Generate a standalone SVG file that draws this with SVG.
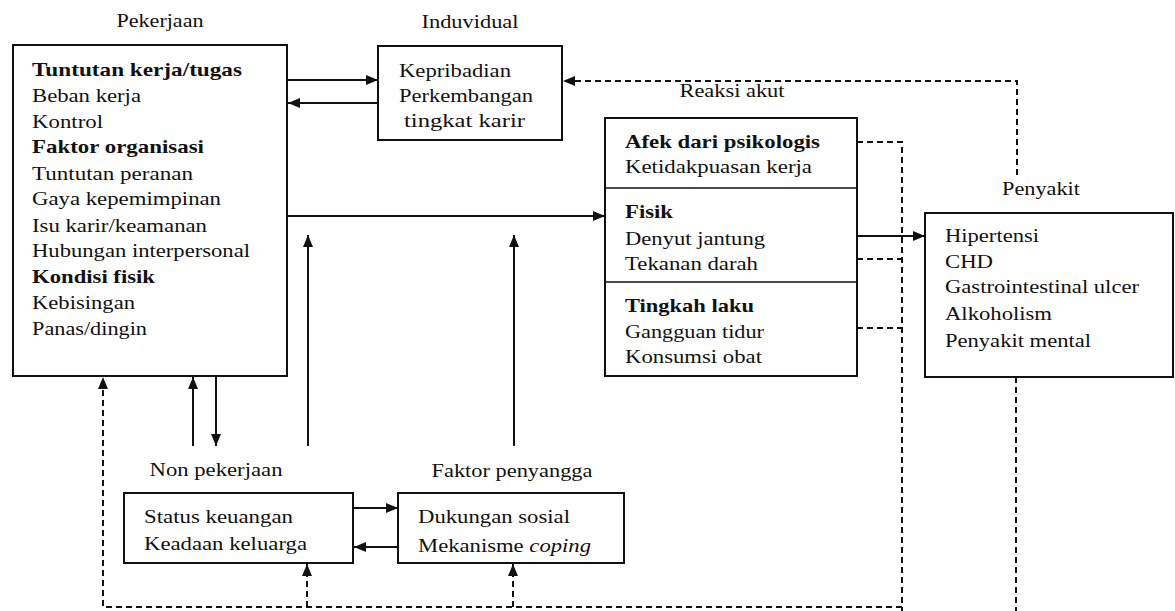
<svg xmlns="http://www.w3.org/2000/svg" width="1175" height="611" viewBox="0 0 1175 611">
<style>
text{font-family:"Liberation Serif","Times New Roman",serif;font-size:19.5px;fill:#111;}
.b{font-weight:bold;}
.lbl{text-anchor:middle;}
.box{fill:none;stroke:#111;stroke-width:2;}
.div{stroke:#111;stroke-width:1.6;}
.c{fill:none;stroke:#111;stroke-width:2;}
.d{fill:none;stroke:#111;stroke-width:2;stroke-dasharray:6 4;}
</style>
<defs>
<marker id="ah" viewBox="0 0 12 10" refX="12" refY="5" markerWidth="12" markerHeight="10" markerUnits="userSpaceOnUse" orient="auto">
<path d="M0,0 L12,5 L0,10 z" fill="#111"/>
</marker>
</defs>
<rect width="1175" height="611" fill="#fff"/>

<g id="pekerjaan">
<text class="lbl" x="160" y="27" textLength="87" lengthAdjust="spacingAndGlyphs">Pekerjaan</text>
<rect class="box" x="13" y="45" width="274" height="331"/>
<text class="b" x="32" y="76" textLength="210" lengthAdjust="spacingAndGlyphs">Tuntutan kerja/tugas</text>
<text x="32" y="102" textLength="109" lengthAdjust="spacingAndGlyphs">Beban kerja</text>
<text x="32" y="128" textLength="71" lengthAdjust="spacingAndGlyphs">Kontrol</text>
<text class="b" x="32" y="153" textLength="172" lengthAdjust="spacingAndGlyphs">Faktor organisasi</text>
<text x="32" y="180" textLength="161" lengthAdjust="spacingAndGlyphs">Tuntutan peranan</text>
<text x="32" y="205" textLength="189" lengthAdjust="spacingAndGlyphs">Gaya kepemimpinan</text>
<text x="32" y="232" textLength="175" lengthAdjust="spacingAndGlyphs">Isu karir/keamanan</text>
<text x="32" y="257" textLength="218" lengthAdjust="spacingAndGlyphs">Hubungan interpersonal</text>
<text class="b" x="32" y="283" textLength="123" lengthAdjust="spacingAndGlyphs">Kondisi fisik</text>
<text x="32" y="309" textLength="103" lengthAdjust="spacingAndGlyphs">Kebisingan</text>
<text x="32" y="335" textLength="115" lengthAdjust="spacingAndGlyphs">Panas/dingin</text>
</g>

<g id="individual">
<text class="lbl" x="470" y="28" textLength="97" lengthAdjust="spacingAndGlyphs">Induvidual</text>
<rect class="box" x="378" y="46" width="184" height="94"/>
<text x="399" y="77" textLength="112" lengthAdjust="spacingAndGlyphs">Kepribadian</text>
<text x="399" y="102" textLength="134" lengthAdjust="spacingAndGlyphs">Perkembangan</text>
<text x="404" y="127" textLength="121" lengthAdjust="spacingAndGlyphs">tingkat karir</text>
</g>

<g id="reaksi-akut">
<text class="lbl" x="732" y="97" textLength="105" lengthAdjust="spacingAndGlyphs">Reaksi akut</text>
<rect class="box" x="605" y="118" width="252" height="258"/>
<line class="div" x1="605" y1="188" x2="857" y2="188"/>
<line class="div" x1="605" y1="282" x2="857" y2="282"/>
<text class="b" x="625" y="148" textLength="195" lengthAdjust="spacingAndGlyphs">Afek dari psikologis</text>
<text x="625" y="173" textLength="187" lengthAdjust="spacingAndGlyphs">Ketidakpuasan kerja</text>
<text class="b" x="625" y="218" textLength="48" lengthAdjust="spacingAndGlyphs">Fisik</text>
<text x="625" y="245" textLength="140" lengthAdjust="spacingAndGlyphs">Denyut jantung</text>
<text x="625" y="270" textLength="133" lengthAdjust="spacingAndGlyphs">Tekanan darah</text>
<text class="b" x="625" y="312" textLength="129" lengthAdjust="spacingAndGlyphs">Tingkah laku</text>
<text x="625" y="338" textLength="139" lengthAdjust="spacingAndGlyphs">Gangguan tidur</text>
<text x="625" y="363" textLength="137" lengthAdjust="spacingAndGlyphs">Konsumsi obat</text>
</g>

<g id="penyakit">
<text class="lbl" x="1041" y="195" textLength="78" lengthAdjust="spacingAndGlyphs">Penyakit</text>
<rect class="box" x="925" y="213" width="248" height="164"/>
<text x="945" y="242" textLength="94" lengthAdjust="spacingAndGlyphs">Hipertensi</text>
<text x="945" y="268" textLength="48" lengthAdjust="spacingAndGlyphs">CHD</text>
<text x="945" y="293" textLength="194" lengthAdjust="spacingAndGlyphs">Gastrointestinal ulcer</text>
<text x="945" y="320" textLength="107" lengthAdjust="spacingAndGlyphs">Alkoholism</text>
<text x="945" y="347" textLength="146" lengthAdjust="spacingAndGlyphs">Penyakit mental</text>
</g>

<g id="non-pekerjaan">
<text class="lbl" x="216" y="476" textLength="133" lengthAdjust="spacingAndGlyphs">Non pekerjaan</text>
<rect class="box" x="124" y="493" width="229" height="70"/>
<text x="144" y="523" textLength="149" lengthAdjust="spacingAndGlyphs">Status keuangan</text>
<text x="144" y="550" textLength="163" lengthAdjust="spacingAndGlyphs">Keadaan keluarga</text>
</g>

<g id="faktor-penyangga">
<text class="lbl" x="512" y="477" textLength="161" lengthAdjust="spacingAndGlyphs">Faktor penyangga</text>
<rect class="box" x="398" y="493" width="226" height="70"/>
<text x="418" y="523" textLength="152" lengthAdjust="spacingAndGlyphs">Dukungan sosial</text>
<text x="418" y="552" textLength="173" lengthAdjust="spacingAndGlyphs">Mekanisme <tspan font-style="italic">coping</tspan></text>
</g>

<g id="connectors">
<line class="c" x1="287" y1="80" x2="378" y2="80" marker-end="url(#ah)"/>
<line class="c" x1="378" y1="103" x2="288" y2="103" marker-end="url(#ah)"/>
<line class="c" x1="287" y1="216" x2="605" y2="216" marker-end="url(#ah)"/>
<line class="c" x1="193" y1="446" x2="193" y2="377" marker-end="url(#ah)"/>
<line class="c" x1="216" y1="377" x2="216" y2="446" marker-end="url(#ah)"/>
<line class="c" x1="308" y1="446" x2="308" y2="235" marker-end="url(#ah)"/>
<line class="c" x1="514" y1="446" x2="514" y2="235" marker-end="url(#ah)"/>
<line class="c" x1="353" y1="508" x2="398" y2="508" marker-end="url(#ah)"/>
<line class="c" x1="398" y1="547" x2="354" y2="547" marker-end="url(#ah)"/>
<line class="c" x1="857" y1="236" x2="925" y2="236" marker-end="url(#ah)"/>
<polyline class="d" points="1017,175 1017,81 563,81" marker-end="url(#ah)"/>
<polyline class="d" points="857,142 902,142 902,611"/>
<line class="d" x1="857" y1="259" x2="902" y2="259"/>
<line class="d" x1="857" y1="328" x2="902" y2="328"/>
<line class="d" x1="1016" y1="377" x2="1016" y2="611"/>
<polyline class="d" points="902,607 103,607 103,377" marker-end="url(#ah)"/>
<line class="d" x1="307" y1="607" x2="307" y2="564" marker-end="url(#ah)"/>
<line class="d" x1="513" y1="607" x2="513" y2="564" marker-end="url(#ah)"/>
</g>
</svg>
